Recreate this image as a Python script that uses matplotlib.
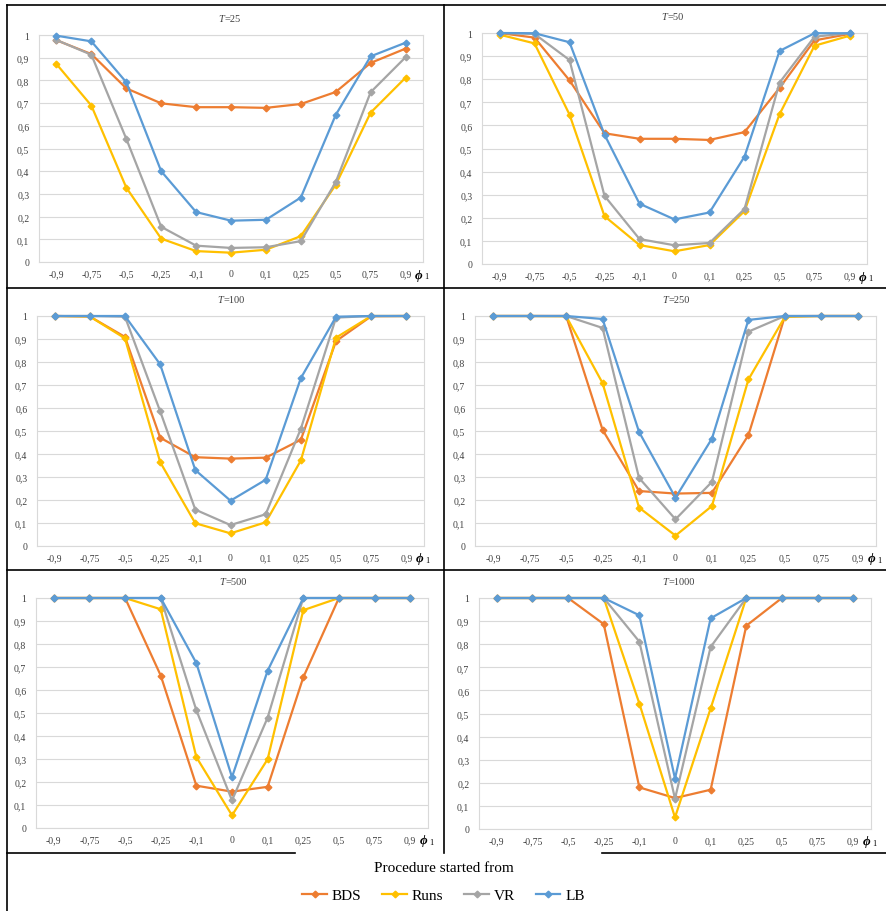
import matplotlib
matplotlib.use("Agg")
import matplotlib.pyplot as plt
from matplotlib.lines import Line2D

plt.rcParams["font.family"] = ["Liberation Serif", "DejaVu Serif"]

# data
phi_labels = ["-0,9", "-0,75", "-0,5", "-0,25", "-0,1", "0", "0,1", "0,25", "0,5", "0,75", "0,9"]
series_names = ["BDS", "Runs", "VR", "LB"]
colors = ["#ED7D31", "#FFC000", "#A5A5A5", "#5B9BD5"]
sample_sizes = [25, 50, 100, 250, 500, 1000]

bds_25 = [0.977, 0.916, 0.765, 0.699, 0.682, 0.682, 0.679, 0.696, 0.749, 0.877, 0.940]
runs_25 = [0.872, 0.689, 0.328, 0.103, 0.048, 0.041, 0.054, 0.114, 0.340, 0.658, 0.812]
vr_25 = [0.978, 0.913, 0.543, 0.155, 0.072, 0.062, 0.065, 0.092, 0.352, 0.748, 0.902]
lb_25 = [0.997, 0.972, 0.792, 0.400, 0.220, 0.182, 0.186, 0.284, 0.648, 0.906, 0.966]

bds_50 = [1.000, 0.980, 0.795, 0.566, 0.542, 0.542, 0.537, 0.571, 0.762, 0.968, 0.996]
runs_50 = [0.993, 0.955, 0.647, 0.207, 0.082, 0.055, 0.082, 0.229, 0.648, 0.945, 0.988]
vr_50 = [1.000, 0.996, 0.883, 0.295, 0.108, 0.081, 0.091, 0.238, 0.785, 0.984, 0.999]
lb_50 = [1.000, 0.999, 0.960, 0.560, 0.261, 0.193, 0.223, 0.465, 0.922, 0.999, 0.999]

bds_100 = [1.000, 0.998, 0.909, 0.471, 0.386, 0.380, 0.384, 0.462, 0.891, 0.999, 1.000]
runs_100 = [1.000, 0.998, 0.903, 0.365, 0.099, 0.055, 0.103, 0.372, 0.906, 1.000, 1.000]
vr_100 = [1.000, 1.000, 0.997, 0.586, 0.158, 0.091, 0.138, 0.510, 0.993, 1.000, 1.000]
lb_100 = [1.000, 1.000, 1.000, 0.790, 0.330, 0.197, 0.288, 0.730, 0.997, 1.000, 1.000]

bds_250 = [1.000, 1.000, 1.000, 0.505, 0.239, 0.228, 0.231, 0.482, 0.999, 1.000, 1.000]
runs_250 = [1.000, 1.000, 0.999, 0.708, 0.167, 0.045, 0.174, 0.724, 0.996, 1.000, 1.000]
vr_250 = [1.000, 1.000, 1.000, 0.948, 0.296, 0.116, 0.279, 0.932, 1.000, 1.000, 1.000]
lb_250 = [1.000, 1.000, 1.000, 0.987, 0.496, 0.210, 0.467, 0.983, 1.000, 1.000, 1.000]

bds_500 = [1.000, 1.000, 1.000, 0.663, 0.184, 0.158, 0.179, 0.655, 1.000, 1.000, 1.000]
runs_500 = [1.000, 1.000, 1.000, 0.951, 0.308, 0.055, 0.299, 0.947, 1.000, 1.000, 1.000]
vr_500 = [1.000, 1.000, 1.000, 1.000, 0.512, 0.120, 0.480, 1.000, 1.000, 1.000, 1.000]
lb_500 = [1.000, 1.000, 1.000, 1.000, 0.717, 0.221, 0.684, 1.000, 1.000, 1.000, 1.000]

bds_1000 = [1.000, 1.000, 1.000, 0.887, 0.180, 0.134, 0.170, 0.880, 1.000, 1.000, 1.000]
runs_1000 = [1.000, 1.000, 1.000, 1.000, 0.543, 0.050, 0.522, 1.000, 1.000, 1.000, 1.000]
vr_1000 = [1.000, 1.000, 1.000, 1.000, 0.811, 0.131, 0.788, 1.000, 1.000, 1.000, 1.000]
lb_1000 = [1.000, 1.000, 1.000, 1.000, 0.925, 0.218, 0.912, 1.000, 1.000, 1.000, 1.000]

panels = [
    [bds_25, runs_25, vr_25, lb_25],
    [bds_50, runs_50, vr_50, lb_50],
    [bds_100, runs_100, vr_100, lb_100],
    [bds_250, runs_250, vr_250, lb_250],
    [bds_500, runs_500, vr_500, lb_500],
    [bds_1000, runs_1000, vr_1000, lb_1000],
]

W, H = 887, 912
fig = plt.figure(figsize=(W / 100, H / 100), dpi=100)

# plot area boxes in pixels: left, right, top, bottom
boxes = [
    (39, 423, 36, 263),
    (482, 867, 34, 265),
    (37, 424, 317, 547),
    (475, 876, 317, 547),
    (36, 428, 599, 829),
    (479, 871, 599, 830),
]

text_col = "#404040"
grid_col = "#D9D9D9"
x = list(range(len(phi_labels)))

handles = []
for i, (l, r, t, b) in enumerate(boxes):
    ax = fig.add_axes([l / W, 1 - b / H, (r - l) / W, (b - t) / H])
    for vals, name, c in zip(panels[i], series_names, colors):
        h, = ax.plot(x, vals, color=c, lw=1.6, marker="D", ms=3.4,
                     label=name, zorder=3, clip_on=False)
        if i == 0:
            handles.append(h)
    ax.set_xlim(-0.5, len(phi_labels) - 0.5)
    ax.set_ylim(0, 1)
    ax.set_xticks(x)
    ax.set_xticklabels(phi_labels)
    ax.set_yticks([k / 10 for k in range(11)])
    ax.set_yticklabels(["0"] + ["0,%d" % k for k in range(1, 10)] + ["1"])
    ax.tick_params(axis="both", length=0, labelsize=7, colors=text_col)
    ax.tick_params(axis="x", pad=5)
    ax.tick_params(axis="y", pad=7)
    ax.grid(axis="y", color=grid_col, lw=0.8)
    ax.set_axisbelow(True)
    for s in ax.spines.values():
        s.set_color(grid_col)
        s.set_linewidth(0.8)
    ax.annotate("T", xy=(0.5, 1), xycoords="axes fraction", xytext=(-5, 12),
                textcoords="offset points", ha="right", va="center",
                fontsize=7.5, style="italic", color=text_col)
    ax.annotate("=%d" % sample_sizes[i], xy=(0.5, 1), xycoords="axes fraction",
                xytext=(-5, 12), textcoords="offset points", ha="left",
                va="center", fontsize=7.5, color=text_col)
    # axis symbol phi_1
    ax.annotate("\u03d5", xy=(1, 0), xycoords="axes fraction", xytext=(-3, -9),
                textcoords="offset points", ha="center", va="center",
                fontsize=9.5, fontweight="bold", style="italic", color="black")
    ax.annotate("1", xy=(1, 0), xycoords="axes fraction", xytext=(2.5, -10),
                textcoords="offset points", ha="center", va="center",
                fontsize=6, color="black")

# panel frame lines (pixel coordinates)
def hline(y, x0, x1):
    fig.add_artist(Line2D([x0 / W, x1 / W], [1 - y / H, 1 - y / H], color="black", lw=1.2))

def vline(xp, y0, y1):
    fig.add_artist(Line2D([xp / W, xp / W], [1 - y0 / H, 1 - y1 / H], color="black", lw=1.2))

hline(6, 7, 887)
hline(289, 7, 887)
hline(571, 7, 887)
hline(854, 7, 295)
hline(854, 602, 887)
vline(7, 6, 912)
vline(444, 6, 854)

fig.text(0.5, 1 - 869 / H, "Procedure started from", ha="center", va="center",
         fontsize=11, color="black")
fig.legend(handles, series_names, loc="center", bbox_to_anchor=(0.5, 1 - 896 / H),
           ncol=4, frameon=False, fontsize=11, handlelength=1.6,
           handletextpad=0.3, columnspacing=1.4, markerscale=1.0)

fig.savefig("out.png", dpi=100)
